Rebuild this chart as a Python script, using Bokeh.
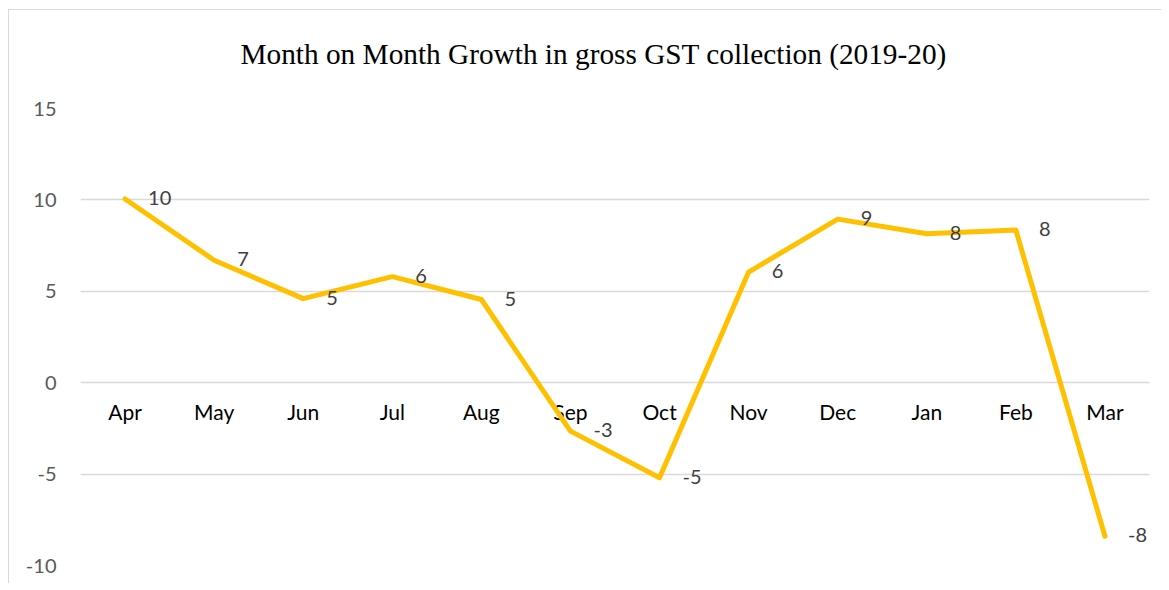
from bokeh.plotting import figure
from bokeh.models import ColumnDataSource, FixedTicker, Range1d, FactorRange, Title
from bokeh.core.properties import value
from bokeh.embed import file_html
from bokeh.resources import INLINE

months = ["Apr", "May", "Jun", "Jul", "Aug", "Sep", "Oct", "Nov", "Dec", "Jan", "Feb", "Mar"]
growth = [10.05, 6.7, 4.6, 5.8, 4.55, -2.65, -5.2, 6.05, 8.95, 8.15, 8.35, -8.4]
y_ticks = [-10, -5, 0, 5, 10, 15]
title_text = "Month on Month Growth in gross GST collection (2019-20)"

labels = ["{:.0f}".format(v) for v in growth]
src = ColumnDataSource(data=dict(m=months, g=growth, lab=labels, zero=[0] * len(months)))

p = figure(
    width=1153, height=574,
    x_range=FactorRange(*months, range_padding=0),
    y_range=Range1d(-10, 15),
    output_backend="svg", toolbar_location=None,
    min_border_left=71, min_border_right=13, min_border_top=98, min_border_bottom=19,
)
p.styles = {"border-top": "1px solid #D9D9D9", "border-left": "1px solid #D9D9D9",
            "margin-left": "8px", "margin-top": "9px"}
p.outline_line_color = None

# thin spacer panel between the frame and the title
spacer = Title(text=" ", text_font_size="1px", standoff=36)
p.add_layout(spacer, "above")
t = Title(text=title_text, align="left", offset=160, standoff=0,
          text_font="Liberation Serif", text_font_size="29.3px",
          text_font_style="normal", text_color="#000000")
p.add_layout(t, "above")

p.xaxis.visible = False
p.xgrid.grid_line_color = None
p.ygrid.grid_line_color = "#D9D9D9"
p.ygrid.grid_line_width = 1.5

ya = p.yaxis[0]
ya.ticker = FixedTicker(ticks=y_ticks)
ya.major_label_overrides = {t_: str(t_) for t_ in y_ticks}
ya.axis_line_color = None
ya.major_tick_line_color = None
ya.minor_tick_line_color = None
ya.major_tick_out = 0
ya.major_tick_in = 0
ya.major_label_standoff = 24
ya.major_label_text_font = "Lato"
ya.major_label_text_font_size = "20px"
ya.major_label_text_color = "#595959"

# category labels along the zero line
p.text(x="m", y="zero", text="m", source=src, text_align="center",
       text_baseline="alphabetic", y_offset=29,
       text_font=value("Lato"), text_font_size="21px", text_color="#000000")

p.line(x="m", y="g", source=src, line_color="#FFC000", line_width=5,
       line_join="round", line_cap="round")

# data labels
p.text(x="m", y="g", text="lab", source=src, text_align="left",
       text_baseline="alphabetic", x_offset=23, y_offset=-1,
       text_font=value("Lato"), text_font_size="20px", text_color="#404040")

open("out.html", "w").write(file_html(p, INLINE))
